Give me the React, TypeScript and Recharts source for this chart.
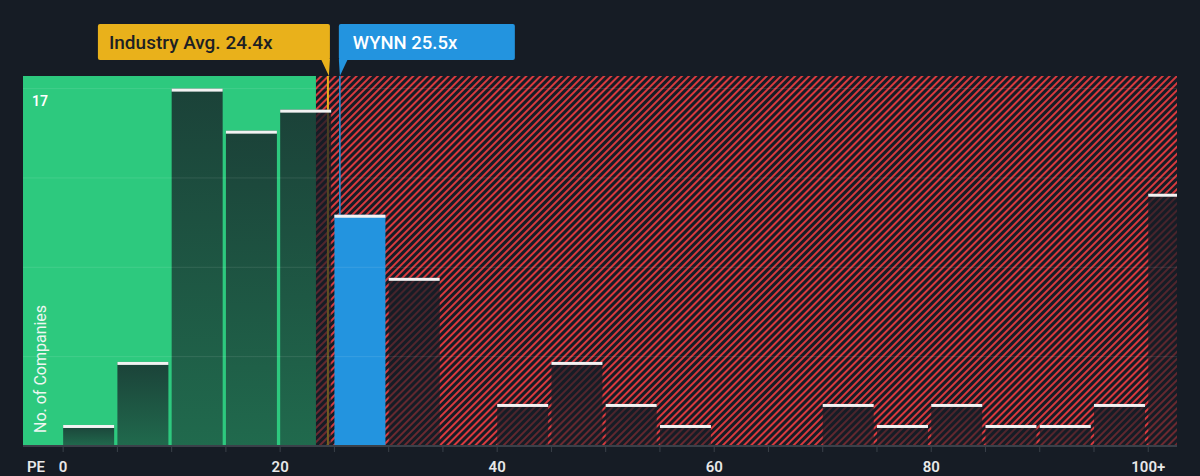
import { BarChart, Bar, XAxis, YAxis, ReferenceArea, ReferenceLine } from 'recharts';

// PE histogram bins (start of each 5-wide bin, last one is "100+")
const binStarts = [0, 5, 10, 15, 20, 25, 30, 35, 40, 45, 50, 55, 60, 65, 70, 75, 80, 85, 90, 95, 100];
const binCounts = [1, 4, 17, 15, 16, 11, 8, 0, 2, 4, 2, 1, 0, 0, 2, 1, 2, 1, 1, 2, 12];
const tickValues = [0, 20, 40, 60, 80, 100];
const tickLabels = ['0', '20', '40', '60', '80', '100+'];
const gridValues = [4.25, 8.5, 12.75, 17];

const industryAvg = 24.4;
const companyPE = 25.5;
const companyName = 'WYNN';
const fairLimit = 23.3;

const BG = '#161c25';
const GREEN = '#2dc97e';
const BLUE = '#2394df';
const YELLOW = '#e9b11b';

const data = binStarts.map((start, i) => ({
    mid: start + 2.5,
    count: binCounts[i],
    own: companyPE >= start && companyPE < start + 5,
}));

const fmtTick = (v: number) => {
    const i = tickValues.indexOf(v);
    return i >= 0 ? tickLabels[i] : '';
};

// bar fills the bin from its left edge, leaving a small gap on the right
const BinBar = (props: any) => {
    const { x, y, width, height, payload } = props;
    if (!height || height <= 0) return null;
    const w = width - 3;
    return (
        <g>
            <rect x={x} y={y} width={w} height={height} fill={payload.own ? BLUE : 'url(#barFade)'} />
            <rect x={x} y={y} width={w} height={3} fill="#f2f2f2" />
        </g>
    );
};

const IndustryTag = (props: any) => {
    const { x, y } = props.viewBox;
    const right = x + 2;
    return (
        <g>
            <rect x={right - 232} y={y - 52} width={232} height={36} rx={2} fill={YELLOW} />
            <polygon points={`${right - 9},${y - 17} ${right},${y - 17} ${x + 1},${y}`} fill={YELLOW} />
            <text x={right - 221} y={y - 27} fontSize={19} fontWeight={500} fill="#1d1f24" fontFamily="Roboto">
                Industry Avg. {industryAvg}x
            </text>
        </g>
    );
};

const CompanyTag = (props: any) => {
    const { x, y } = props.viewBox;
    const left = x - 1;
    return (
        <g>
            <rect x={left} y={y - 52} width={176} height={36} rx={2} fill={BLUE} />
            <polygon points={`${left},${y - 17} ${left + 9},${y - 17} ${x},${y}`} fill={BLUE} />
            <text x={left + 14} y={y - 27} fontSize={18.5} fontWeight={500} fill="#ffffff" fontFamily="Roboto">
                {companyName} {companyPE}x
            </text>
        </g>
    );
};

const TopLabel = (props: any) => {
    const { x, y } = props.viewBox;
    return (
        <text x={x + 9} y={y + 17} fontSize={14} fontWeight={600} fill="#ffffff" fontFamily="Roboto">
            {gridValues[gridValues.length - 1]}
        </text>
    );
};

const YTitle = (props: any) => {
    const { x, y } = props.viewBox;
    const tx = x + 23;
    const ty = y - 13;
    return (
        <text x={tx} y={ty} transform={`rotate(-90 ${tx} ${ty})`} fontSize={16} fill="#eef6f1" fontFamily="Roboto">
            No. of Companies
        </text>
    );
};

const XTitle = (props: any) => {
    const { x, y } = props.viewBox;
    return (
        <text x={x + 4} y={y + 26} fontSize={15} fontWeight={600} fill="#e8e8e8" fontFamily="Roboto">
            PE
        </text>
    );
};

export default function App() {
    return (
        <div style={{ position: 'absolute', left: 0, top: 0, width: 1200, height: 476, background: BG, fontFamily: 'Roboto' }}>
            <BarChart width={1200} height={476} data={data} margin={{ top: 76, right: 23, bottom: 0, left: 23 }}>
                <defs>
                    <pattern id="hatch" width={5} height={5} patternUnits="userSpaceOnUse" patternTransform="rotate(45)">
                        <rect width={5} height={5} fill={BG} />
                        <line x1={1} y1={0} x2={1} y2={5} stroke="#d93a3e" strokeWidth={2} />
                    </pattern>
                    <linearGradient id="barFade" x1="0" y1="0" x2="0" y2="1">
                        <stop offset="0%" stopColor={BG} stopOpacity={0.78} />
                        <stop offset="100%" stopColor={BG} stopOpacity={0.55} />
                    </linearGradient>
                </defs>
                <XAxis
                    type="number"
                    dataKey="mid"
                    domain={[-3.7, 102.65]}
                    allowDataOverflow
                    ticks={binStarts}
                    interval={0}
                    tickFormatter={fmtTick}
                    tick={{ fill: '#e8e8e8', fontSize: 15, fontWeight: 600, fontFamily: 'Roboto' }}
                    axisLine={{ stroke: '#3a4049', strokeWidth: 2 }}
                    tickLine={{ stroke: '#3a4049' }}
                    tickSize={6}
                    tickMargin={9}
                    height={30}
                    label={{ content: XTitle }}
                />
                <YAxis type="number" domain={[0, 17.6]} hide />
                <ReferenceArea x1={-3.7} x2={fairLimit} fill={GREEN} fillOpacity={1} stroke="none" zIndex={50} />
                <ReferenceArea x1={fairLimit} x2={102.65} fill="url(#hatch)" fillOpacity={1} stroke="none" zIndex={50} />
                <ReferenceLine x={industryAvg} stroke={YELLOW} strokeWidth={2} zIndex={150} label={{ content: IndustryTag }} />
                <ReferenceLine x={companyPE} stroke={BLUE} strokeWidth={1.5} zIndex={150} label={{ content: CompanyTag }} />
                <Bar dataKey="count" barSize={54} shape={BinBar} isAnimationActive={false} zIndex={300} />
                {gridValues.map((v, i) => (
                    <ReferenceLine
                        key={v}
                        y={v}
                        stroke="#ffffff"
                        strokeOpacity={0.1}
                        zIndex={400}
                        label={i === gridValues.length - 1 ? { content: TopLabel } : undefined}
                    />
                ))}
                <ReferenceLine y={0} stroke="none" zIndex={400} label={{ content: YTitle }} />
            </BarChart>
        </div>
    );
}
